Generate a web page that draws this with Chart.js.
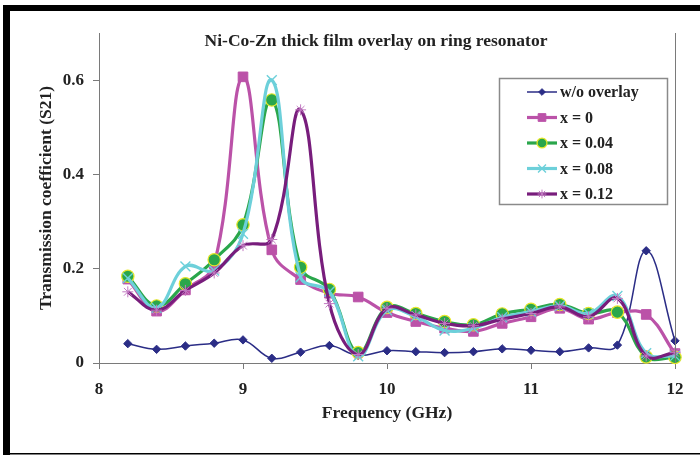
<!DOCTYPE html>
<html>
<head>
<meta charset="utf-8">
<script src="https://cdn.jsdelivr.net/npm/chart.js@4/dist/chart.umd.min.js"></script>
<style>
  html, body { margin: 0; padding: 0; background: #ffffff; }
  #wrap { position: relative; width: 700px; height: 455px; }
</style>
</head>
<body>
<div id="wrap"><canvas id="chart" width="700" height="455"></canvas></div>
<script>
// Frequency sweep points (GHz)
const frequency = [8.2, 8.4, 8.6, 8.8, 9.0, 9.2, 9.4, 9.6, 9.8, 10.0,
                   10.2, 10.4, 10.6, 10.8, 11.0, 11.2, 11.4, 11.6, 11.8, 12.0];

// Transmission coefficient S21 for each overlay composition
const withoutOverlay = [0.041, 0.029, 0.036, 0.042, 0.049, 0.010, 0.023, 0.037, 0.016, 0.026,
                        0.024, 0.022, 0.024, 0.030, 0.027, 0.024, 0.032, 0.038, 0.238, 0.047];
const x000 = [0.178, 0.110, 0.155, 0.210, 0.607, 0.240, 0.177, 0.148, 0.140, 0.107,
              0.088, 0.074, 0.067, 0.084, 0.098, 0.116, 0.093, 0.107, 0.103, 0.020];
const x004 = [0.184, 0.121, 0.168, 0.219, 0.293, 0.558, 0.203, 0.156, 0.022, 0.118,
              0.105, 0.088, 0.081, 0.104, 0.114, 0.124, 0.105, 0.108, 0.013, 0.012];
const x008 = [0.180, 0.117, 0.205, 0.196, 0.274, 0.600, 0.182, 0.151, 0.014, 0.112,
              0.098, 0.069, 0.074, 0.097, 0.109, 0.121, 0.105, 0.142, 0.021, 0.015];
const x012 = [0.151, 0.112, 0.154, 0.191, 0.249, 0.262, 0.537, 0.126, 0.018, 0.116,
              0.102, 0.084, 0.079, 0.093, 0.105, 0.119, 0.098, 0.137, 0.015, 0.022];

const seriesNames = ['w/o overlay', 'x = 0', 'x = 0.04', 'x = 0.08', 'x = 0.12'];
const seriesValues = [withoutOverlay, x000, x004, x008, x012];

const yTicks = [0, 0.2, 0.4, 0.6];
const xTicks = [8, 9, 10, 11, 12];

const chartTitle = 'Ni-Co-Zn thick film overlay on ring resonator';
const xTitle = 'Frequency (GHz)';
const yTitle = 'Transmission coefficient (S21)';

const serif = '"Liberation Serif", "Times New Roman", serif';

// Visual style of each series
const styles = [
  { line: '#2b2d86', width: 1.5, point: 'rectRot', radius: 4.2, fill: '#2b2d86', border: '#2b2d86', bw: 1 },
  { line: '#bb52a8', width: 3.2, point: 'rect', radius: 6.8, fill: '#bb52a8', border: '#bb52a8', bw: 1 },
  { line: '#2aa64b', width: 3.2, point: 'circle', radius: 6.2, fill: '#2aa64b', border: '#e8e82a', bw: 1.2 },
  { line: '#6dd0da', width: 3.2, point: 'crossRot', radius: 7, fill: '#6dd0da', border: '#6dd0da', bw: 1.4 },
  { line: '#781d7c', width: 3.2, point: 'star', radius: 5.5, fill: '#c27ac2', border: '#c27ac2', bw: 1 }
];

const datasets = seriesValues.map((vals, i) => ({
  label: seriesNames[i],
  data: vals.map((v, k) => ({ x: frequency[k], y: v })),
  borderColor: styles[i].line,
  borderWidth: styles[i].width,
  backgroundColor: styles[i].fill,
  pointStyle: styles[i].point,
  pointRadius: styles[i].radius,
  pointBackgroundColor: styles[i].fill,
  pointBorderColor: styles[i].border,
  pointBorderWidth: styles[i].bw,
  tension: 0.4,
  clip: false,
  order: seriesValues.length - i
}));

// Frame, title, right plot border and boxed legend
const decorations = {
  id: 'decorations',
  afterDraw(chart) {
    const { ctx, chartArea } = chart;
    ctx.save();

    // outer black frame (top, left, bottom)
    ctx.fillStyle = '#000000';
    ctx.fillRect(3, 5, 697, 6);
    ctx.fillRect(3, 5, 7, 450);
    ctx.fillRect(3, 453, 697, 1.5);

    // right plot border
    ctx.strokeStyle = '#7a7a7a';
    ctx.lineWidth = 1;
    ctx.beginPath();
    ctx.moveTo(Math.round(chartArea.right) + 0.5, chartArea.top);
    ctx.lineTo(Math.round(chartArea.right) + 0.5, chartArea.bottom);
    ctx.stroke();

    // chart title
    ctx.fillStyle = '#222222';
    ctx.font = 'bold 17.5px ' + serif;
    ctx.textAlign = 'center';
    ctx.textBaseline = 'middle';
    ctx.fillText(chartTitle, 376, 41);

    // legend box
    const bx = 499.5, by = 78.5, bw = 168, bh = 126;
    ctx.fillStyle = '#ffffff';
    ctx.fillRect(bx, by, bw, bh);
    ctx.strokeStyle = '#8a8a8a';
    ctx.lineWidth = 1.5;
    ctx.strokeRect(bx, by, bw, bh);

    chart.data.datasets.forEach((ds, i) => {
      const y = 92 + i * 25.5;
      ctx.strokeStyle = ds.borderColor;
      ctx.lineWidth = ds.borderWidth;
      ctx.beginPath();
      ctx.moveTo(527, y);
      ctx.lineTo(557, y);
      ctx.stroke();
      ctx.fillStyle = ds.pointBackgroundColor;
      ctx.strokeStyle = ds.pointBorderColor;
      ctx.lineWidth = ds.pointBorderWidth;
      Chart.helpers.drawPoint(ctx, {
        pointStyle: ds.pointStyle,
        radius: ds.pointRadius * 0.8,
        rotation: 0,
        borderWidth: ds.pointBorderWidth
      }, 542, y);
      ctx.fillStyle = '#222222';
      ctx.font = 'bold 16px ' + serif;
      ctx.textAlign = 'left';
      ctx.textBaseline = 'middle';
      ctx.fillText(ds.label, 560, y + 1);
    });
    ctx.restore();
  }
};

new Chart(document.getElementById('chart'), {
  type: 'line',
  data: { datasets },
  options: {
    responsive: false,
    animation: false,
    devicePixelRatio: 1,
    layout: { padding: { left: 0, right: 25, top: 33, bottom: 0 } },
    plugins: {
      legend: { display: false },
      title: { display: false },
      tooltip: { enabled: false }
    },
    scales: {
      x: {
        type: 'linear',
        min: xTicks[0],
        max: xTicks[xTicks.length - 1],
        afterBuildTicks(scale) { scale.ticks = xTicks.map(v => ({ value: v })); },
        afterFit(scale) { scale.height = 92; },
        border: { display: true, color: '#7a7a7a', width: 1 },
        grid: { display: true, drawOnChartArea: false, drawTicks: true, tickLength: 6, color: '#7a7a7a' },
        ticks: {
          padding: 10,
          color: '#222222',
          font: { family: serif, size: 17, weight: 'bold' },
          maxRotation: 0
        },
        title: {
          display: true,
          text: xTitle,
          color: '#222222',
          font: { family: serif, size: 17.5, weight: 'bold' },
          padding: { top: 0, bottom: 31 }
        }
      },
      y: {
        type: 'linear',
        min: 0,
        max: 0.7,
        afterBuildTicks(scale) { scale.ticks = yTicks.map(v => ({ value: v })); },
        afterFit(scale) { scale.width = 99; },
        border: { display: true, color: '#7a7a7a', width: 1 },
        grid: { display: true, drawOnChartArea: false, drawTicks: true, tickLength: 6, color: '#7a7a7a' },
        ticks: {
          padding: 9,
          color: '#222222',
          font: { family: serif, size: 17, weight: 'bold' },
          callback: (v) => String(v)
        },
        title: {
          display: true,
          text: yTitle,
          color: '#222222',
          font: { family: serif, size: 17.5, weight: 'bold' },
          padding: { top: 36, bottom: 0 }
        }
      }
    }
  },
  plugins: [decorations]
});
</script>
</body>
</html>
